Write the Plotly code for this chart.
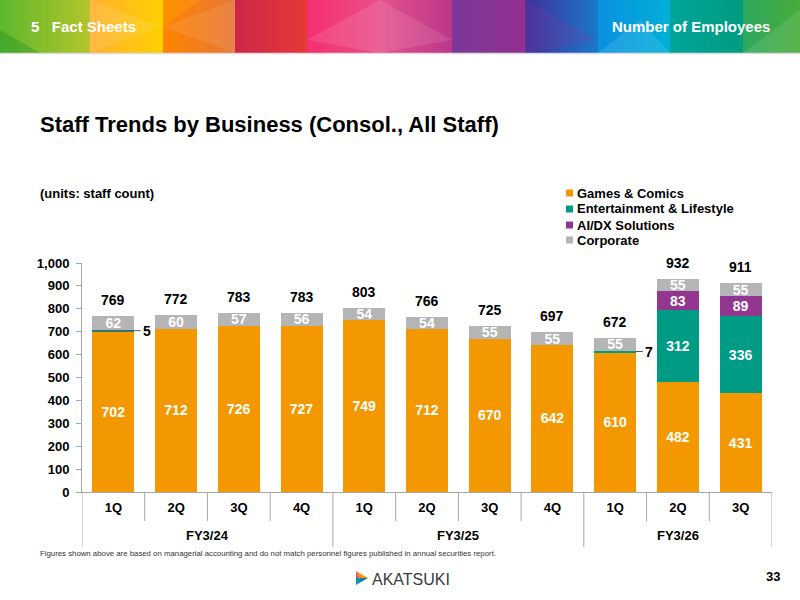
import plotly.graph_objects as go

# ---------------- data ----------------
quarters = ["1Q", "2Q", "3Q", "4Q", "1Q", "2Q", "3Q", "4Q", "1Q", "2Q", "3Q"]
fiscal_years = ["FY3/24", "FY3/25", "FY3/26"]
fy_sizes = [4, 4, 3]

games = [702, 712, 726, 727, 749, 712, 670, 642, 610, 482, 431]
entertainment = [5, 0, 0, 0, 0, 0, 0, 0, 7, 312, 336]
ai_dx = [0, 0, 0, 0, 0, 0, 0, 0, 0, 83, 89]
corporate = [62, 60, 57, 56, 54, 54, 55, 55, 55, 55, 55]
totals = [769, 772, 783, 783, 803, 766, 725, 697, 672, 932, 911]

series_names = ["Games & Comics", "Entertainment & Lifestyle", "AI/DX Solutions", "Corporate"]
series_colors = ["#F39800", "#009B84", "#92368F", "#B5B5B5"]

FONT = "Liberation Sans, Arial, sans-serif"

# plot area in page pixels
L, R, T, B = 82, 772, 263, 492
W, H = 800, 600


def px(x, y):
    return (x - L) / (R - L), (B - y) / (B - T)


x_idx = list(range(len(quarters)))
fig = go.Figure()

all_series = [games, entertainment, ai_dx, corporate]
for name, vals, col in zip(series_names, all_series, series_colors):
    fig.add_trace(go.Bar(
        x=x_idx, y=vals, name=name,
        marker=dict(color=col, line=dict(width=0)),
        width=0.67,
        text=[str(v) if v >= 40 else "" for v in vals],
        textposition="inside", insidetextanchor="middle",
        constraintext="none", textangle=0,
        textfont=dict(family=FONT, size=14, color="white", weight="bold"),
        hoverinfo="skip", showlegend=False,
    ))

annotations = []
shapes = []

# totals above bars
for i, t in enumerate(totals):
    annotations.append(dict(x=i, y=t, xref="x", yref="y", text=str(t), showarrow=False,
                            yanchor="bottom", yshift=6,
                            font=dict(family=FONT, size=14, color="black", weight="bold")))

# small entertainment values with leader lines
for i, v in enumerate(entertainment):
    if 0 < v < 40:
        yv = games[i] + v / 2
        annotations.append(dict(x=i - 0.33 if i == 0 else i + 0.33, y=yv, xref="x", yref="y",
                                text=str(v), showarrow=True, arrowhead=0, arrowwidth=1,
                                arrowcolor="#595959", ax=(48 if i == 0 else 7), ay=0,
                                xanchor="left",
                                font=dict(family=FONT, size=14, color="black", weight="bold")))

# fiscal year labels and separators
start = 0
for fy, n in zip(fiscal_years, fy_sizes):
    annotations.append(dict(x=start + (n - 1) / 2, y=px(0, 535)[1], xref="x", yref="paper",
                            text=fy, showarrow=False, yanchor="middle",
                            font=dict(family=FONT, size=13, color="black", weight="bold")))
    start += n
group_edges = [-0.5]
acc = -0.5
for n in fy_sizes:
    acc += n
    group_edges.append(acc)
for k in range(len(quarters) + 1):
    edge = k - 0.5
    bottom = 547 if edge in group_edges else 521
    shapes.append(dict(type="line", xref="x", yref="paper", x0=edge, x1=edge,
                       y0=0, y1=px(0, bottom)[1], line=dict(color="#A6A6A6", width=1)))

# ---------------- header banner ----------------
stops = [
    (0, 90, "#5cb82c", "#b4c42c"),
    (90, 163, "#ffb030", "#ffd000"),
    (163, 235, "#ff8400", "#e67838"),
    (235, 307, "#cc2648", "#e63a36"),
    (307, 380, "#f52f6f", "#e8508a"),
    (380, 452, "#e4528c", "#bc368a"),
    (452, 525, "#7a3898", "#943090"),
    (525, 598, "#40309a", "#1a78cc"),
    (598, 670, "#0a90e0", "#00b0d8"),
    (670, 743, "#00a49a", "#009c80"),
    (743, 800, "#2ea860", "#48ac38"),
]


def hx(c):
    return [int(c[i:i + 2], 16) for i in (1, 3, 5)]


for x0, x1, c0, c1 in stops:
    a, b = hx(c0), hx(c1)
    step = 3
    x = x0
    while x < x1:
        xe = min(x + step, x1)
        f = ((x + xe) / 2 - x0) / (x1 - x0)
        c = "rgb(%d,%d,%d)" % tuple(round(a[j] + (b[j] - a[j]) * f) for j in range(3))
        p0, p1 = px(x, 0), px(xe + 0.6, 53)
        shapes.append(dict(type="rect", xref="paper", yref="paper", x0=p0[0], x1=p1[0],
                           y0=p1[1], y1=p0[1], fillcolor=c, line=dict(width=0), layer="below"))
        x = xe

# faint diagonal facets on the banner
facets = [
    ([(0, 53), (0, 30), (40, 53)], "rgba(0,120,40,0.25)"),
    ([(90, 53), (90, 0), (160, 27)], "rgba(255,255,255,0.10)"),
    ([(163, 27), (235, 0), (235, 53)], "rgba(255,255,255,0.08)"),
    ([(163, 27), (200, 0), (163, 0)], "rgba(255,170,0,0.35)"),
    ([(307, 40), (380, 0), (452, 40), (380, 53)], "rgba(255,255,255,0.10)"),
    ([(525, 0), (598, 40), (525, 53)], "rgba(120,60,160,0.25)"),
    ([(598, 53), (640, 20), (670, 53)], "rgba(255,255,255,0.10)"),
    ([(743, 53), (800, 10), (800, 53)], "rgba(255,255,255,0.10)"),
]
for pts, col in facets:
    pp = [px(*p) for p in pts]
    path = "M " + " L ".join("%f %f" % q for q in pp) + " Z"
    shapes.append(dict(type="path", xref="paper", yref="paper", path=path,
                       fillcolor=col, line=dict(width=0), layer="below"))

p0, p1 = px(0, 53.5), px(800, 53.5)
shapes.append(dict(type="line", xref="paper", yref="paper", x0=p0[0], x1=p1[0], y0=p0[1], y1=p0[1],
                   line=dict(color="#dcdcdc", width=1.5)))

# logo icon
lx, ly = 356, 578
icon = [
    ((lx, ly - 7), (lx + 12, ly), (lx + 4, ly), "#F39800"),
    ((lx, ly - 7), (lx + 4, ly), (lx, ly), "#E8508A"),
    ((lx, ly + 7), (lx + 12, ly), (lx + 4, ly), "#1a78cc"),
    ((lx, ly + 7), (lx + 4, ly), (lx, ly), "#009B84"),
]
for p, q, r_, col in icon:
    a_, b_, c_ = px(*p), px(*q), px(*r_)
    path = "M %f %f L %f %f L %f %f Z" % (a_[0], a_[1], b_[0], b_[1], c_[0], c_[1])
    shapes.append(dict(type="path", xref="paper", yref="paper", path=path,
                       fillcolor=col, line=dict(width=0)))


def page_text(x, y, text, size, color="black", bold=True, xanchor="left"):
    xp, yp = px(x, y)
    annotations.append(dict(x=xp, y=yp, xref="paper", yref="paper", text=text, showarrow=False,
                            xanchor=xanchor, yanchor="middle",
                            font=dict(family=FONT, size=size, color=color,
                                      weight="bold" if bold else "normal")))


# legend drawn as colored squares + labels
leg_rows = [193, 209, 225, 240]
for name, col, yy in zip(series_names, series_colors, leg_rows):
    a_, b_ = px(566, yy - 3.5), px(573, yy + 3.5)
    shapes.append(dict(type="rect", xref="paper", yref="paper", x0=a_[0], x1=b_[0],
                       y0=b_[1], y1=a_[1], fillcolor=col, line=dict(width=0)))
    page_text(575, yy, name, 13)

page_text(29, 27, "5&nbsp;&nbsp;&nbsp;Fact Sheets", 15, "white")
page_text(772, 27, "Number of Employees", 15, "white", xanchor="right")
page_text(38, 125, "Staff Trends by Business (Consol., All Staff)", 22)
page_text(38, 193, "(units: staff count)", 13)
page_text(38, 553, "Figures shown above are based on managerial accounting and do not match personnel figures published in annual securities report.", 7.8, "#333333", bold=False)
page_text(370, 579, "AKATSUKI", 16, "#3a3a3a", bold=False)
page_text(782, 576, "33", 13, xanchor="right")

fig.update_layout(
    width=W, height=H,
    margin=dict(l=L, r=W - R, t=T, b=H - B, pad=0),
    paper_bgcolor="white", plot_bgcolor="white",
    barmode="stack", bargap=0.33,
    showlegend=False,
    xaxis=dict(range=[-0.5, len(quarters) - 0.5], tickvals=x_idx, ticktext=quarters,
               showline=True, linecolor="#A6A6A6", linewidth=1, ticks="", showgrid=False,
               zeroline=False, ticklabelstandoff=3,
               tickfont=dict(family=FONT, size=13, color="black", weight="bold")),
    yaxis=dict(range=[0, 1000], dtick=100, tickformat=",", showline=True, linecolor="#A6A6A6",
               linewidth=1, ticks="outside", ticklen=5, tickcolor="#A6A6A6", showgrid=False,
               zeroline=False, ticklabelstandoff=4,
               tickfont=dict(family=FONT, size=13, color="black", weight="bold")),
    shapes=shapes, annotations=annotations,
    font=dict(family=FONT),
)

fig.write_html("out.html")
